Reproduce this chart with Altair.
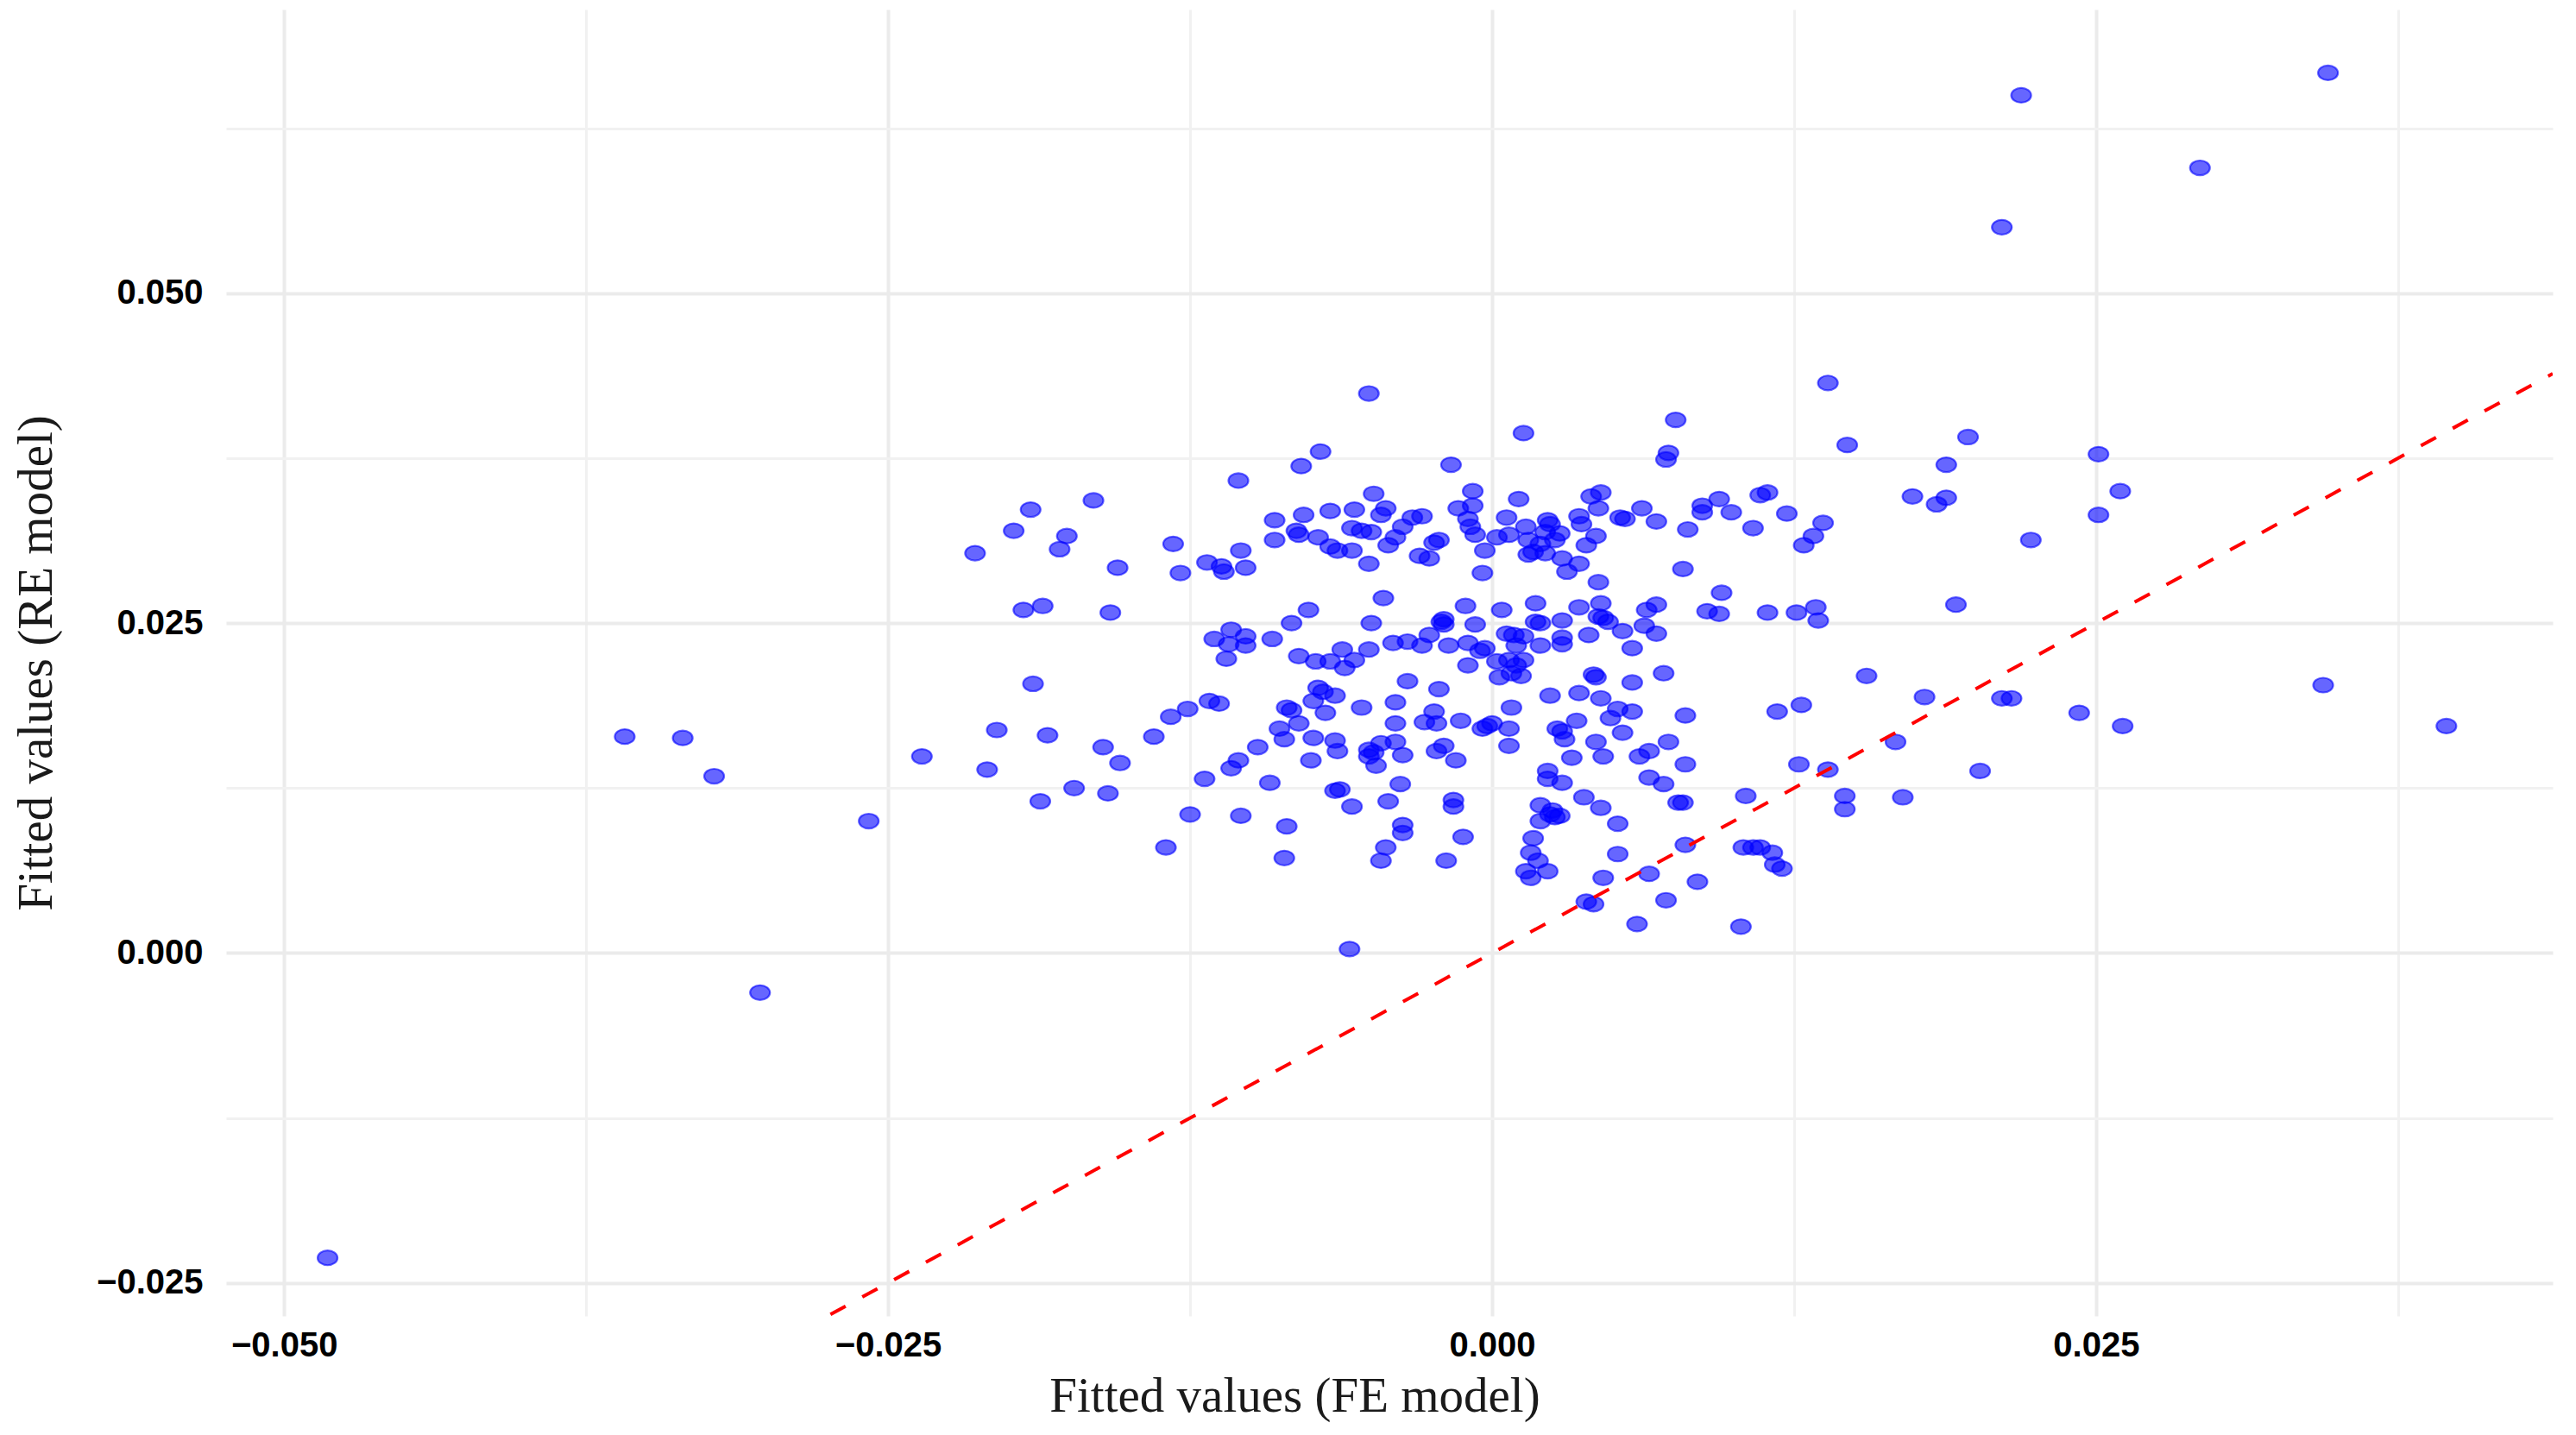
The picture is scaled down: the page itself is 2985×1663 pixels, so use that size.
import altair as alt
import pandas as pd

# Fitted values (FE model on x, RE model on y)
fe_values = [
    -0.0214, -0.0198, -0.0191, -0.0165, -0.0176, -0.0179, -0.0155, -0.0132, -0.0129, -0.0194,
    -0.0186, -0.0158, -0.0105, -0.0079, -0.0090, -0.0090, -0.0078, -0.0081, -0.0080, -0.0118,
    -0.0112, -0.0111, -0.0104, -0.0102, -0.0115, -0.0108, -0.0102, -0.0109, -0.0102, -0.0091,
    -0.0083, -0.0076,
    -0.0051, 0.0013, -0.0071, -0.0017, 0.0076, 0.0073, 0.0072, -0.0049, -0.0067, -0.0057,
    -0.0044, -0.0046, -0.0072, -0.0067, -0.0064, -0.0058, -0.0058, -0.0054, -0.0050, -0.0051,
    -0.0037, -0.0040, -0.0043, -0.0033, -0.0029, -0.0030, -0.0026, -0.0024, -0.0022, -0.0008,
    -0.0014, -0.0008, -0.0010, -0.0009, -0.0007, -0.0003, -0.0004, 0.0011, 0.0006, 0.0002,
    0.0007, 0.0014, 0.0015, 0.0023, 0.0024, 0.0022, 0.0028, 0.0020, 0.0015, 0.0017,
    0.0022, 0.0026, 0.0029, 0.0031, 0.0036, 0.0039, 0.0036, 0.0037, 0.0043, 0.0041,
    0.0045, 0.0044, 0.0053, 0.0055, 0.0062, 0.0068, 0.0044, 0.0045, 0.0044, 0.0046,
    0.0036, 0.0048, 0.0054, 0.0040, 0.0064, 0.0068, 0.0063, 0.0068, 0.0058, 0.0018,
    0.0018, 0.0020, 0.0029, 0.0029, 0.0029, 0.0004, 0.0006, 0.0009, 0.0013, 0.0020,
    0.0010, -0.0011, -0.0007, -0.0010, -0.0020, -0.0021, -0.0020, -0.0026, -0.0018, -0.0029,
    -0.0035, -0.0041, -0.0045, -0.0050, -0.0051, -0.0062, -0.0003, -0.0005,
    0.0139, 0.0147, 0.0197, 0.0188, 0.0174, 0.0184, 0.0188, 0.0223, 0.0192, 0.0094,
    0.0087, 0.0087, 0.0099, 0.0081, 0.0108, 0.0111, 0.0114, 0.0122, 0.0137, 0.0133,
    0.0129, 0.0079, 0.0095, 0.0089, 0.0094, 0.0114, 0.0126, 0.0134, 0.0135,
    -0.0110, -0.0080, -0.0190, -0.0205, -0.0184, -0.0209, -0.0161, -0.0154, -0.0187, -0.0173,
    -0.0159, -0.0140, -0.0133, -0.0126, -0.0117, -0.0113, -0.0135, -0.0125, -0.0119, -0.0108,
    -0.0105, -0.0097, -0.0092, -0.0104, -0.0085, -0.0086, -0.0088, -0.0086, -0.0085, -0.0083,
    -0.0080,
    -0.0073, -0.0067, -0.0061, -0.0057, -0.0010, 0.0003, 0.0008, 0.0012, 0.0010, 0.0007,
    0.0013, 0.0002, 0.0071, -0.0035, -0.0022, -0.0040, -0.0054, -0.0065, -0.0072, -0.0070,
    -0.0069, -0.0074, -0.0074, -0.0065, -0.0064, -0.0075, -0.0040, -0.0028, -0.0024, -0.0023,
    -0.0013, -0.0004, -0.0002, 0.0000, 0.0007, 0.0008, 0.0007, -0.0046, -0.0040, -0.0037,
    -0.0051, -0.0049, -0.0051, -0.0048, -0.0023, -0.0020, -0.0015, -0.0038, -0.0065, -0.0063,
    -0.0058, -0.0043, -0.0037, -0.0037, -0.0044, -0.0046, -0.0016, -0.0016, -0.0012, -0.0019,
    -0.0059, 0.0042, 0.0043, 0.0058, 0.0024, 0.0036, 0.0045, 0.0052, 0.0049, 0.0058,
    0.0035, 0.0029, 0.0027, 0.0030, 0.0054, 0.0043, 0.0046, 0.0033, 0.0065, 0.0061,
    0.0073, 0.0023, 0.0023, 0.0029, 0.0065, 0.0071, 0.0077, 0.0079, 0.0038, 0.0045,
    0.0052, 0.0020, 0.0024, 0.0025, 0.0026, 0.0028, 0.0020, 0.0017, 0.0016, 0.0019,
    0.0014, 0.0023, 0.0016, 0.0052, 0.0046, 0.0065, 0.0039, 0.0042, 0.0072, 0.0060,
    0.0080, 0.0080, 0.0080, 0.0085, 0.0103, 0.0118, 0.0128, 0.0155, 0.0179, 0.0211,
    0.0215, 0.0167, 0.0202, 0.0127, 0.0139, 0.0105, 0.0146, 0.0146, 0.0170, 0.0104,
    0.0108, 0.0111, 0.0116, 0.0117, 0.0120,
    0.0219, 0.0346, 0.0293, 0.0211, 0.0251, 0.0260, 0.0251, 0.0243, 0.0261, 0.0344,
    0.0395,
    -0.0359, -0.0335, -0.0322, -0.0258, -0.0236, -0.0303, -0.0482,
]

re_values = [
    0.0303, 0.0320, 0.0336, 0.0343, 0.0316, 0.0306, 0.0292, 0.0310, 0.0288, 0.0260,
    0.0263, 0.0258, 0.0358, 0.0369, 0.0328, 0.0313, 0.0332, 0.0320, 0.0317, 0.0296,
    0.0293, 0.0289, 0.0305, 0.0292, 0.0238, 0.0245, 0.0240, 0.0234, 0.0233, 0.0238,
    0.0250, 0.0260,
    0.0424, 0.0394, 0.0380, 0.0370, 0.0404, 0.0379, 0.0374, 0.0348, 0.0335, 0.0336,
    0.0337, 0.0332, 0.0315, 0.0308, 0.0305, 0.0305, 0.0322, 0.0320, 0.0319, 0.0295,
    0.0323, 0.0315, 0.0309, 0.0330, 0.0331, 0.0301, 0.0299, 0.0311, 0.0313, 0.0350,
    0.0337, 0.0339, 0.0329, 0.0323, 0.0317, 0.0305, 0.0288, 0.0344, 0.0330, 0.0315,
    0.0317, 0.0323, 0.0313, 0.0328, 0.0325, 0.0319, 0.0318, 0.0310, 0.0302, 0.0304,
    0.0303, 0.0313, 0.0299, 0.0289, 0.0295, 0.0309, 0.0331, 0.0325, 0.0316, 0.0346,
    0.0349, 0.0337, 0.0330, 0.0329, 0.0337, 0.0327, 0.0281, 0.0265, 0.0255, 0.0254,
    0.0262, 0.0251, 0.0244, 0.0241, 0.0260, 0.0264, 0.0248, 0.0242, 0.0231, 0.0265,
    0.0251, 0.0250, 0.0252, 0.0239, 0.0234, 0.0260, 0.0242, 0.0241, 0.0240, 0.0233,
    0.0233, 0.0263, 0.0249, 0.0235, 0.0253, 0.0251, 0.0249, 0.0241, 0.0233, 0.0233,
    0.0236, 0.0235, 0.0269, 0.0250, 0.0230, 0.0230, 0.0231, 0.0229,
    0.0432, 0.0385, 0.0391, 0.0370, 0.0346, 0.0340, 0.0345, 0.0313, 0.0264, 0.0344,
    0.0339, 0.0334, 0.0334, 0.0321, 0.0322, 0.0347, 0.0349, 0.0333, 0.0326, 0.0316,
    0.0309, 0.0291, 0.0273, 0.0259, 0.0257, 0.0258, 0.0258, 0.0262, 0.0252,
    0.0223, 0.0225, 0.0204, 0.0169, 0.0165, 0.0139, 0.0156, 0.0144, 0.0115, 0.0125,
    0.0121, 0.0164, 0.0179, 0.0185, 0.0191, 0.0189, 0.0080, 0.0105, 0.0132, 0.0140,
    0.0146, 0.0156, 0.0129, 0.0104, 0.0096, 0.0072, 0.0170, 0.0162, 0.0186, 0.0184,
    0.0174,
    0.0221, 0.0221, 0.0216, 0.0222, 0.0218, 0.0209, 0.0212, 0.0210, 0.0218, 0.0222,
    0.0222, 0.0221, 0.0212, 0.0206, 0.0200, 0.0190, 0.0186, 0.0195, 0.0201, 0.0198,
    0.0182, 0.0191, 0.0163, 0.0161, 0.0153, 0.0146, 0.0174, 0.0175, 0.0183, 0.0174,
    0.0176, 0.0170, 0.0172, 0.0174, 0.0170, 0.0186, 0.0157, 0.0159, 0.0160, 0.0150,
    0.0154, 0.0152, 0.0149, 0.0142, 0.0153, 0.0157, 0.0146, 0.0128, 0.0123, 0.0124,
    0.0111, 0.0115, 0.0097, 0.0091, 0.0080, 0.0070, 0.0116, 0.0111, 0.0088, 0.0070,
    0.0003, 0.0211, 0.0209, 0.0205, 0.0195, 0.0197, 0.0193, 0.0185, 0.0178, 0.0183,
    0.0176, 0.0168, 0.0170, 0.0162, 0.0167, 0.0160, 0.0149, 0.0148, 0.0153, 0.0149,
    0.0160, 0.0138, 0.0132, 0.0129, 0.0133, 0.0128, 0.0114, 0.0114, 0.0118, 0.0110,
    0.0098, 0.0112, 0.0105, 0.0108, 0.0103, 0.0104, 0.0100, 0.0087, 0.0076, 0.0070,
    0.0062, 0.0062, 0.0057, 0.0075, 0.0057, 0.0060, 0.0039, 0.0037, 0.0040, 0.0022,
    0.0180, 0.0143, 0.0082, 0.0054, 0.0020, 0.0183, 0.0188, 0.0210, 0.0194, 0.0193,
    0.0193, 0.0160, 0.0138, 0.0143, 0.0139, 0.0119, 0.0119, 0.0109, 0.0118, 0.0080,
    0.0080, 0.0080, 0.0076, 0.0067, 0.0064,
    0.0650, 0.0667, 0.0595, 0.0550, 0.0378, 0.0350, 0.0332, 0.0182, 0.0172, 0.0203,
    0.0172,
    0.0164, 0.0163, 0.0134, 0.0100, 0.0149, -0.0030, -0.0231,
]

x_domain = [-0.0524, 0.0439]
y_domain = [-0.0275, 0.0715]
x_ticks = [-0.05, -0.0375, -0.025, -0.0125, 0.0, 0.0125, 0.025, 0.0375]
y_ticks = [-0.025, -0.0125, 0.0, 0.0125, 0.025, 0.0375, 0.05, 0.0625]

points = pd.DataFrame({"fe": fe_values, "re": re_values})
diag = pd.DataFrame({"fe": x_domain, "re": x_domain})

major_test = "round(datum.value * 10000) % 250 === 0"
label_expr = f"{major_test} ? format(datum.value, '.3f') : ''"
label_font = "'Liberation Sans', Arial, sans-serif"
title_font = "'Liberation Serif', 'Times New Roman', serif"

common_axis = dict(
    domain=False,
    ticks=False,
    tickSize=0,
    grid=True,
    gridColor={"condition": {"test": major_test, "value": "#EBEBEB"}, "value": "#F1F1F1"},
    gridWidth={"condition": {"test": major_test, "value": 4}, "value": 3},
    labelExpr=label_expr,
    labelFont=label_font,
    labelFontSize=40,
    labelFontWeight="bold",
    labelColor="#000000",
    titleFont=title_font,
    titleFontSize=57,
    titleFontWeight="normal",
    titleColor="#1a1a1a",
)

x_enc = alt.X(
    "fe:Q",
    scale=alt.Scale(domain=x_domain, nice=False, zero=False),
    axis=alt.Axis(
        values=x_ticks,
        labelPadding=14,
        title="Fitted values (FE model)",
        titleX=1238,
        titleY=93,
        titleBaseline="middle",
        titleAlign="center",
        titleAnchor="start",
        **common_axis,
    ),
)
y_enc = alt.Y(
    "re:Q",
    scale=alt.Scale(domain=y_domain, nice=False, zero=False),
    axis=alt.Axis(
        values=y_ticks,
        labelPadding=27,
        title="Fitted values (RE model)",
        titleAngle=270,
        titleX=-220,
        titleY=757,
        titleBaseline="middle",
        titleAlign="center",
        titleAnchor="start",
        **common_axis,
    ),
)

ellipse = "M -1 0 A 1 0.74 0 1 0 1 0 A 1 0.74 0 1 0 -1 0 Z"

scatter = alt.Chart(points).mark_point(
    shape=ellipse,
    size=530,
    filled=True,
    fill="#0000FF",
    fillOpacity=0.6,
    stroke="#0000FF",
    strokeOpacity=0.6,
    strokeWidth=2.2,
    opacity=1,
).encode(x=x_enc, y=y_enc)

line = alt.Chart(diag).mark_line(
    color="#FF0000",
    strokeDash=[20, 22],
    strokeWidth=4,
    clip=True,
).encode(x=alt.X("fe:Q"), y=alt.Y("re:Q"))

chart = (
    alt.layer(scatter, line)
    .properties(
        width=2696,
        height=1514,
        autosize=alt.AutoSizeParams(type="none"),
        padding={"left": 254, "top": 3, "right": 10, "bottom": 135},
        background="#FFFFFF",
    )
    .configure_view(stroke=None)
)

chart.save("out.html", embed_options={"renderer": "svg", "actions": False})
